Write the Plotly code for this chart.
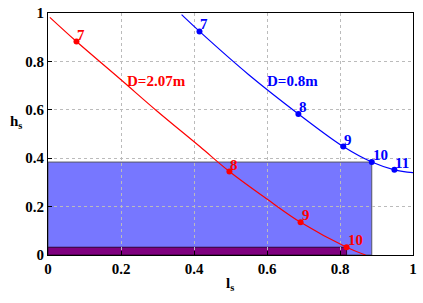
import plotly.graph_objects as go

# Red series D=2.07m
red_pts_x = [0.078, 0.497, 0.692, 0.818]
red_pts_y = [0.882, 0.345, 0.135, 0.032]
red_labels = ["7", "8", "9", "10"]
red_curve_x = [0.005, 0.078, 0.2, 0.3, 0.416, 0.497, 0.6, 0.692, 0.818, 0.87]
red_curve_y = [0.982, 0.882, 0.724, 0.593, 0.448, 0.345, 0.231, 0.135, 0.032, 0.0]

# Blue series D=0.8m
blue_pts_x = [0.415, 0.686, 0.809, 0.887, 0.949]
blue_pts_y = [0.924, 0.583, 0.448, 0.384, 0.352]
blue_labels = ["7", "8", "9", "10", "11"]
blue_curve_x = [0.366, 0.415, 0.55, 0.686, 0.809, 0.887, 0.949, 1.0]
blue_curve_y = [0.993, 0.924, 0.745, 0.583, 0.448, 0.384, 0.352, 0.34]

# Rectangles
blue_rect = (0.887, 0.384)
purple_rect = (0.818, 0.032)

ticks = [0, 0.2, 0.4, 0.6, 0.8, 1]
tick_labels = ["0", "0.2", "0.4", "0.6", "0.8", "1"]

serif = "Times New Roman"
fig = go.Figure()

fig.add_shape(type="rect", x0=0, y0=0, x1=blue_rect[0], y1=blue_rect[1], xref="x", yref="y",
              fillcolor="#7777ff", line=dict(color="#555566", width=1), layer="below")
fig.add_shape(type="rect", x0=0, y0=0, x1=purple_rect[0], y1=purple_rect[1], xref="x", yref="y",
              fillcolor="#800080", line=dict(color="#330033", width=1), layer="below")

fig.add_trace(go.Scatter(x=red_curve_x, y=red_curve_y, mode="lines", line=dict(color="red", width=1.2, shape="spline"),
                         hoverinfo="skip"))
fig.add_trace(go.Scatter(x=blue_curve_x, y=blue_curve_y, mode="lines", line=dict(color="blue", width=1.2, shape="spline"),
                         hoverinfo="skip"))
fig.add_trace(go.Scatter(x=red_pts_x, y=red_pts_y, mode="markers", marker=dict(color="red", size=6)))
fig.add_trace(go.Scatter(x=blue_pts_x, y=blue_pts_y, mode="markers", marker=dict(color="blue", size=6)))

for xs, ys, labs, col in [(red_pts_x, red_pts_y, red_labels, "red"), (blue_pts_x, blue_pts_y, blue_labels, "blue")]:
    for x, y, t in zip(xs, ys, labs):
        fig.add_annotation(x=x, y=y, text="<b>%s</b>" % t, showarrow=False, xanchor="left", yanchor="bottom",
                           xshift=-1, yshift=-3, font=dict(family=serif, size=15, color=col))

fig.add_annotation(x=0.297, y=0.717, text="<b>D=2.07m</b>", showarrow=False, font=dict(family=serif, size=15, color="red"))
fig.add_annotation(x=0.67, y=0.717, text="<b>D=0.8m</b>", showarrow=False, font=dict(family=serif, size=15, color="blue"))

fig.add_annotation(x=0, y=0.5, xref="paper", yref="paper", xanchor="center", yanchor="middle", xshift=-32, yshift=12,
                   text="<b>h<sub>s</sub></b>", showarrow=False, font=dict(family=serif, size=15, color="black"))
fig.add_annotation(x=0.5, y=0, xref="paper", yref="paper", xanchor="center", yanchor="middle", xshift=-1, yshift=-29,
                   text="<b>l<sub>s</sub></b>", showarrow=False, font=dict(family=serif, size=15, color="black"))

axis_common = dict(showgrid=True, gridcolor="#bbbbbb", griddash="dot", gridwidth=1,
                   showline=True, linecolor="black", linewidth=1, mirror=True, zeroline=False,
                   ticks="inside", ticklen=4, tickcolor="black",
                   tickfont=dict(family=serif, size=15, color="black"),
                   tickvals=ticks, ticktext=["<b>%s</b>" % t for t in tick_labels], range=[0, 1])
fig.update_xaxes(**axis_common)
fig.update_yaxes(**axis_common)

fig.update_layout(width=423, height=303, margin=dict(l=48, r=10, t=13, b=48, autoexpand=False),
                  showlegend=False, plot_bgcolor="white", paper_bgcolor="white")
fig.write_html("out.html", config={"displayModeBar": False},
               post_script="document.body.style.margin='0px';document.body.style.overflow='hidden';")
